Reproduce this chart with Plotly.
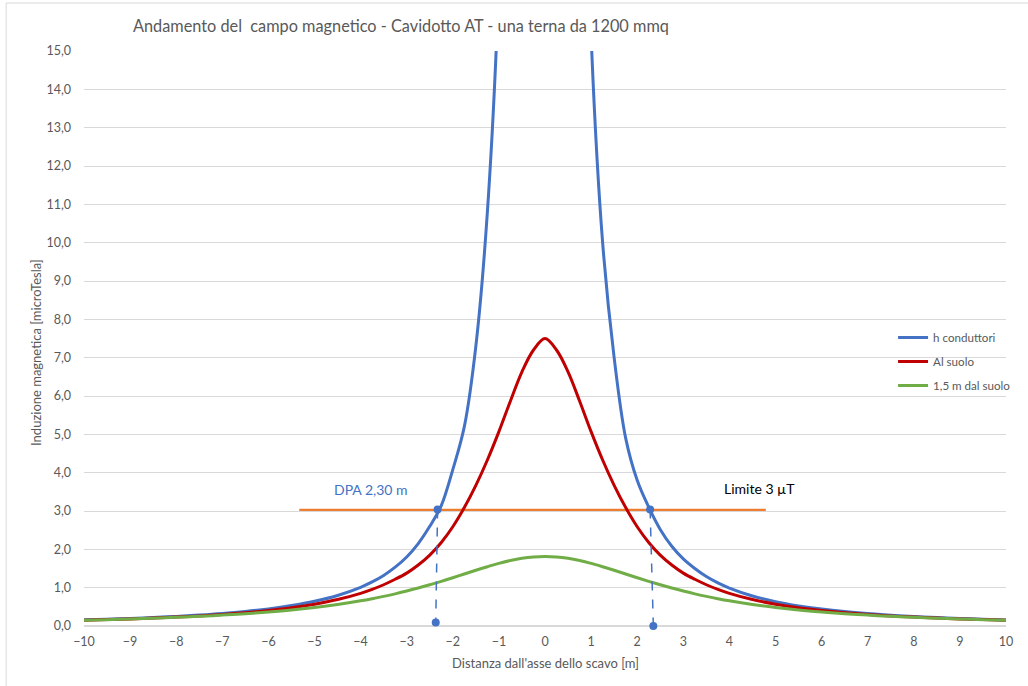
import plotly.graph_objects as go

# ---- data ----
x_vals = [-10, -9.5, -9, -8.5, -8, -7.5, -7, -6.5, -6, -5.5, -5, -4.5,
          -4, -3.75, -3.5, -3.25, -3, -2.75, -2.5, -2.25, -2, -1.75, -1.5, -1.25, -1.0, -0.75, -0.5, -0.25,
          0, 0.25, 0.5, 0.75, 1.0, 1.25, 1.5, 1.75, 2, 2.25, 2.5, 2.75, 3, 3.25, 3.5, 3.75, 4,
          4.5, 5, 5.5, 6, 6.5, 7, 7.5, 8, 8.5, 9, 9.5, 10]

h_conduttori = [0.161, 0.178, 0.198, 0.222, 0.251, 0.286, 0.328, 0.381, 0.447, 0.533, 0.645, 0.797,
                1.01, 1.15, 1.32, 1.534, 1.80, 2.15, 2.60, 3.14, 4.08, 5.2, 7.3, 10.8, 16.8, 30.0, None, None,
                None, None, None, 27.0, 15.4, 10.0, 7.0, 4.9, 3.8, 3.1, 2.52, 2.08, 1.75, 1.50, 1.29, 1.124, 0.99,
                0.783, 0.635, 0.525, 0.441, 0.376, 0.325, 0.283, 0.249, 0.220, 0.197, 0.177, 0.159]

al_suolo = [0.151, 0.167, 0.185, 0.207, 0.233, 0.264, 0.301, 0.347, 0.404, 0.476, 0.569, 0.690,
            0.852, 0.955, 1.076, 1.219, 1.38, 1.59, 1.85, 2.18, 2.59, 3.09, 3.67, 4.33, 5.07, 5.87, 6.63, 7.20,
            7.50, 7.20, 6.63, 5.87, 5.07, 4.33, 3.67, 3.09, 2.59, 2.18, 1.85, 1.59, 1.38, 1.219, 1.076, 0.955, 0.852,
            0.690, 0.569, 0.476, 0.404, 0.347, 0.301, 0.264, 0.233, 0.207, 0.185, 0.167, 0.151]

m15_dal_suolo = [0.151, 0.166, 0.183, 0.203, 0.226, 0.252, 0.284, 0.321, 0.366, 0.419, 0.484, 0.562,
                 0.657, 0.712, 0.773, 0.839, 0.912, 0.990, 1.075, 1.165, 1.260, 1.357, 1.454, 1.547, 1.634, 1.708, 1.765, 1.801,
                 1.813, 1.801, 1.765, 1.708, 1.634, 1.547, 1.454, 1.357, 1.260, 1.165, 1.075, 0.990, 0.912, 0.839, 0.773, 0.712, 0.657,
                 0.562, 0.484, 0.419, 0.366, 0.321, 0.284, 0.252, 0.226, 0.203, 0.183, 0.166, 0.151]

limit_x = [-5.33, 4.79]
limit_y = [3.03, 3.03]
dpa_left_x = [-2.33, -2.37]
dpa_left_y = [3.04, 0.09]
dpa_right_x = [2.28, 2.35]
dpa_right_y = [3.04, 0.0]

x_ticks = list(range(-10, 11))

FONT = "Lato"
GRAY = "#595959"

fig = go.Figure()

fig.add_trace(go.Scatter(x=limit_x, y=limit_y, mode="lines", showlegend=False,
                         line=dict(color="#ED7D31", width=2.25), hoverinfo="skip"))

series = [("h conduttori", h_conduttori, "#4472C4"),
          ("Al suolo", al_suolo, "#C00000"),
          ("1,5 m dal suolo", m15_dal_suolo, "#70AD47")]
for i, (name, vals, col) in enumerate(series):
    fig.add_trace(go.Scatter(x=x_vals, y=vals, mode="lines", name=name,
                             legendgroup=f"g{i}",
                             line=dict(color=col, width=3, shape="spline", smoothing=1.0),
                             connectgaps=False))

for xs, ys in [(dpa_left_x, dpa_left_y), (dpa_right_x, dpa_right_y)]:
    fig.add_trace(go.Scatter(x=xs, y=ys, mode="lines+markers", showlegend=False,
                             line=dict(color="#4472C4", width=1.5, dash="dash"),
                             marker=dict(color="#4472C4", size=8),
                             cliponaxis=False, hoverinfo="skip"))

fig.update_layout(
    width=1028, height=686,
    margin=dict(l=84, r=20, t=51, b=60),
    paper_bgcolor="white", plot_bgcolor="white",
    separators=",.",
    font=dict(family=FONT, color=GRAY, size=12),
    showlegend=True,
    legend=dict(x=0.8775, y=0.527, xanchor="left", yanchor="top",
                bgcolor="rgba(0,0,0,0)", font=dict(family=FONT, size=11.6, color=GRAY),
                traceorder="grouped", tracegroupgap=5),
    xaxis=dict(range=[-10, 10], tickmode="array", tickvals=x_ticks,
               showgrid=False, zeroline=False, showline=False,
               ticks="", ticklabelstandoff=6,
               tickfont=dict(family=FONT, size=12.5, color=GRAY)),
    yaxis=dict(range=[0, 15], dtick=1, tickformat=".1f",
               showgrid=True, gridcolor="#D9D9D9", gridwidth=1,
               zeroline=True, zerolinecolor="#D9D9D9", showline=False,
               ticks="", ticklabelstandoff=12,
               tickfont=dict(family=FONT, size=12.5, color=GRAY)),
    annotations=[
        dict(text="Andamento del  campo magnetico - Cavidotto AT - una terna da 1200 mmq",
             xref="paper", yref="paper", x=0.0509, y=1.0435, xanchor="left", yanchor="middle",
             showarrow=False, font=dict(family=FONT, size=16.3, color=GRAY)),
        dict(text="Induzione magnetica [microTesla]", xref="paper", yref="paper",
             x=-0.052, y=0.475, xanchor="center", yanchor="middle", textangle=-90,
             showarrow=False, font=dict(family=FONT, size=13, color=GRAY)),
        dict(text="Distanza dall'asse dello scavo [m]", xref="paper", yref="paper",
             x=0.5, y=-0.064, xanchor="center", yanchor="middle",
             showarrow=False, font=dict(family=FONT, size=13, color=GRAY)),
        dict(text="DPA 2,30 m", xref="x", yref="y", x=-3.77, y=3.55,
             xanchor="center", yanchor="middle", showarrow=False,
             font=dict(family=FONT, size=14, color="#4472C4")),
        dict(text="Limite 3 µT", xref="x", yref="y", x=4.66, y=3.6,
             xanchor="center", yanchor="middle", showarrow=False,
             font=dict(family=FONT, size=14, color="black")),
    ],
    shapes=[
        dict(type="line", xref="paper", yref="paper", x0=-0.0844, x1=-0.0844,
             y0=1.0835, y1=-0.105, line=dict(color="#D9D9D9", width=1)),
        dict(type="line", xref="paper", yref="paper", x0=-0.0844, x1=1.03,
             y0=1.0835, y1=1.0835, line=dict(color="#D9D9D9", width=1)),
    ],
)

fig.write_html("out.html", config={"displayModeBar": False},
               post_script="document.body.style.margin='0px';")
